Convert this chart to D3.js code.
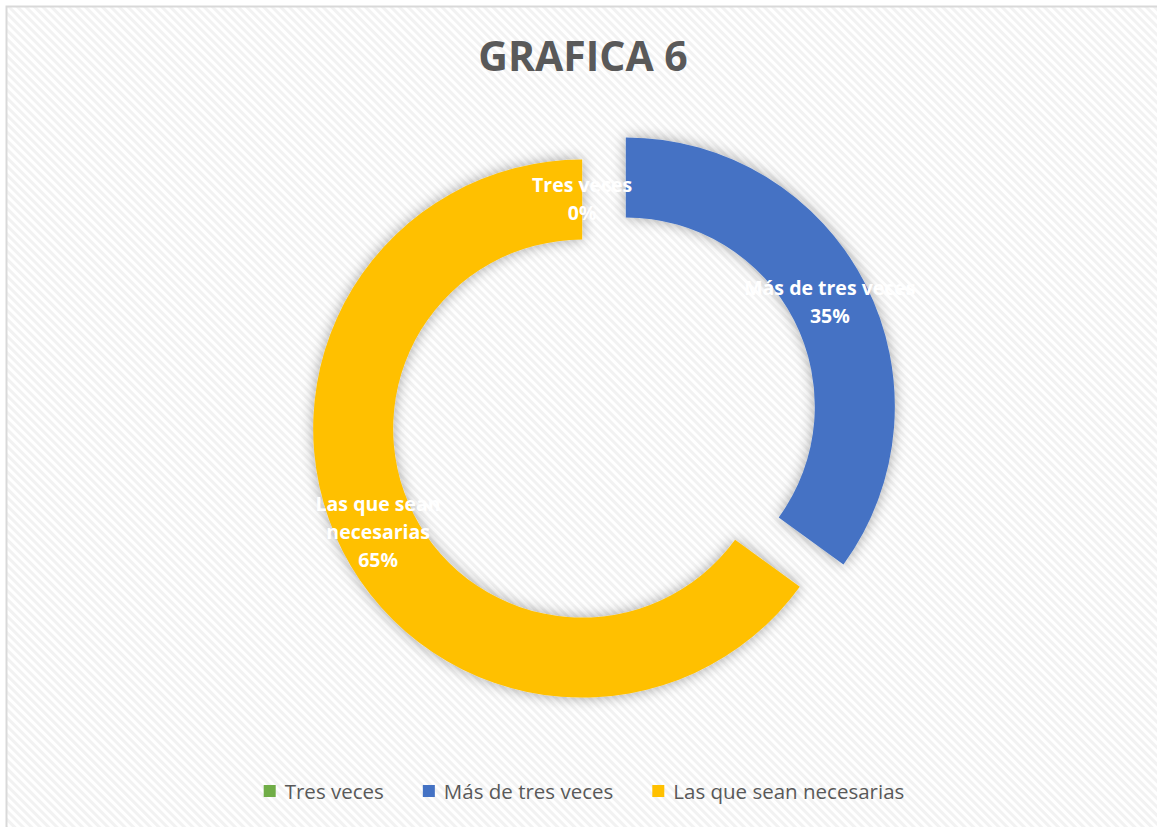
<!DOCTYPE html>
<html>
<head>
<meta charset="utf-8">
<script src="https://cdn.jsdelivr.net/npm/d3@7"></script>
<style>
  body { margin: 0; background: #fff; }
  svg { display: block; font-family: "Open Sans", "Lato", sans-serif; }
</style>
</head>
<body>
<svg id="chart" width="1157" height="827"></svg>
<script>
const categories = ["Tres veces", "Más de tres veces", "Las que sean necesarias"];
const values = [0, 35, 65];
const percentLabels = ["0%", "35%", "65%"];
const labelLines = [["Tres veces"], ["Más de tres veces"], ["Las que sean", "necesarias"]];
const colors = ["#70AD47", "#4472C4", "#FFC000"];
const title = "GRAFICA 6";

document.addEventListener("DOMContentLoaded", function() {
    const svg = d3.select("#chart");
    const width = +svg.attr("width"), height = +svg.attr("height");
    const defs = svg.append("defs");

    // diagonal texture like the Excel chart area fill
    const pat = defs.append("pattern")
        .attr("id", "hatch")
        .attr("patternUnits", "userSpaceOnUse")
        .attr("width", 6).attr("height", 6)
        .attr("patternTransform", "rotate(-45)");
    pat.append("rect").attr("width", 6).attr("height", 6).attr("fill", "#ffffff");
    pat.append("rect").attr("width", 3).attr("height", 6).attr("fill", "#f2f2f2");

    const shadow = defs.append("filter").attr("id", "glow")
        .attr("x", "-20%").attr("y", "-20%").attr("width", "140%").attr("height", "140%");
    shadow.append("feDropShadow")
        .attr("dx", 0).attr("dy", 0).attr("stdDeviation", 7)
        .attr("flood-color", "#000").attr("flood-opacity", 0.35);

    svg.append("rect").attr("width", width).attr("height", height).attr("fill", "#fff");
    svg.append("rect")
        .attr("x", 6.5).attr("y", 6.5)
        .attr("width", width + 10).attr("height", height + 10)
        .attr("fill", "url(#hatch)")
        .attr("stroke", "#d9d9d9").attr("stroke-width", 2);

    svg.append("text")
        .attr("x", 583).attr("y", 71)
        .attr("text-anchor", "middle")
        .style("font-size", "41px")
        .style("font-weight", "bold")
        .style("fill", "#595959")
        .text(title);

    const cx = 604, cy = 417.5;
    const outerR = 269, innerR = 189, explode = 24.5;

    const pie = d3.pie().sort(null).value(d => d);
    const arcs = pie(values);
    const arc = d3.arc().innerRadius(innerR).outerRadius(outerR);
    const labelArc = d3.arc().innerRadius((innerR + outerR) / 2).outerRadius((innerR + outerR) / 2);

    // offset of each slice along its middle angle; an empty slice follows the last one
    function offset(a) {
        let src = a;
        if (a.endAngle - a.startAngle === 0) src = arcs[arcs.length - 1];
        const mid = (src.startAngle + src.endAngle) / 2;
        return [explode * Math.sin(mid), -explode * Math.cos(mid)];
    }

    const g = svg.append("g").attr("transform", `translate(${cx},${cy})`);

    g.selectAll("path.slice").data(arcs).enter().append("path")
        .attr("class", "slice")
        .attr("d", arc)
        .attr("fill", (d, i) => colors[i])
        .attr("filter", "url(#glow)")
        .attr("transform", d => `translate(${offset(d)[0]},${offset(d)[1]})`);

    const lineH = 28;
    arcs.forEach((d, i) => {
        const o = offset(d);
        const c = labelArc.centroid(d);
        const lines = labelLines[i].concat([percentLabels[i]]);
        const x = c[0] + o[0], y0 = c[1] + o[1] - (lines.length - 1) * lineH / 2;
        const t = g.append("text")
            .attr("text-anchor", "middle")
            .style("font-size", "19.5px")
            .style("font-weight", "bold")
            .style("fill", "#fff");
        lines.forEach((ln, k) => {
            t.append("tspan").attr("x", x).attr("y", y0 + k * lineH).attr("dy", "0.35em").text(ln);
        });
    });

    // legend
    const legend = svg.append("g");
    const sq = 12, gapText = 9, gapItem = 39;
    let xPos = 0;
    categories.forEach((c, i) => {
        const item = legend.append("g").attr("transform", `translate(${xPos},0)`);
        item.append("rect").attr("x", 0).attr("y", -sq / 2 - 1).attr("width", sq).attr("height", sq).attr("fill", colors[i]);
        const t = item.append("text")
            .attr("x", sq + gapText).attr("y", 0).attr("dy", "0.35em")
            .style("font-size", "20.5px").style("fill", "#595959")
            .text(c);
        xPos += sq + gapText + t.node().getComputedTextLength() + gapItem;
    });
    const total = xPos - gapItem;
    legend.attr("transform", `translate(${584 - total / 2},792)`);
});
</script>
</body>
</html>
